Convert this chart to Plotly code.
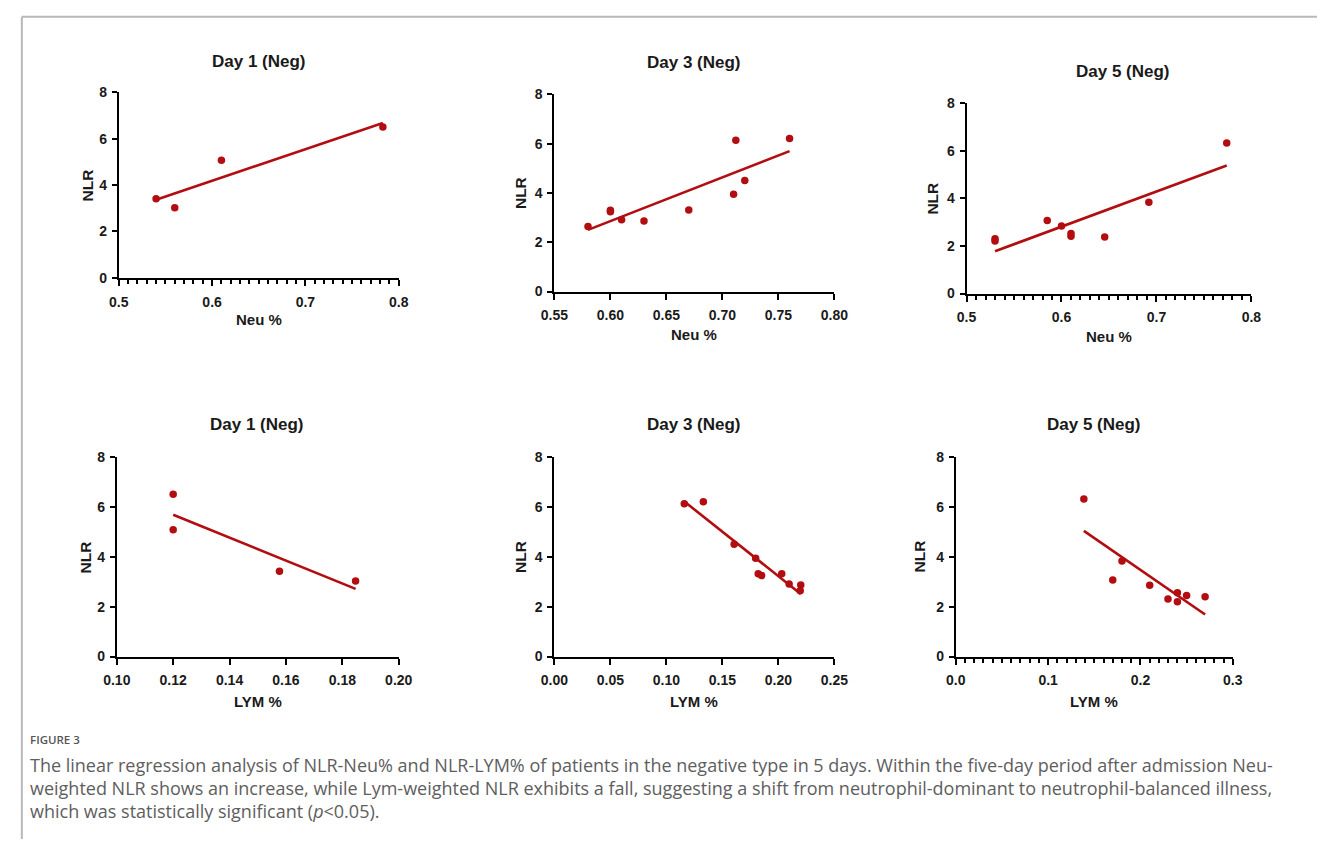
import numpy as np
import plotly.graph_objects as go

W, H = 1331, 847

# ---------------- data ----------------
d1_neu = [0.54, 0.56, 0.61, 0.783]
d1_nlr_neu = [3.41, 3.02, 5.07, 6.51]

d3_neu = [0.58, 0.60, 0.60, 0.61, 0.63, 0.67, 0.71, 0.712, 0.72, 0.76]
d3_nlr_neu = [2.64, 3.30, 3.24, 2.91, 2.86, 3.31, 3.95, 6.14, 4.50, 6.21]

d5_neu = [0.53, 0.53, 0.585, 0.60, 0.61, 0.61, 0.6455, 0.692, 0.774]
d5_nlr_neu = [2.30, 2.21, 3.07, 2.84, 2.52, 2.41, 2.38, 3.84, 6.33]

d1_lym = [0.12, 0.12, 0.1577, 0.1847]
d1_nlr_lym = [6.52, 5.09, 3.42, 3.03]

d3_lym = [0.116, 0.133, 0.1605, 0.1797, 0.182, 0.185, 0.203, 0.2096, 0.220, 0.2195]
d3_nlr_lym = [6.14, 6.22, 4.51, 3.95, 3.32, 3.25, 3.32, 2.91, 2.87, 2.64]

d5_lym = [0.1387, 0.17, 0.18, 0.21, 0.2298, 0.24, 0.24, 0.25, 0.27]
d5_nlr_lym = [6.33, 3.07, 3.84, 2.86, 2.31, 2.56, 2.20, 2.45, 2.40]

titles = ["Day 1 (Neg)", "Day 3 (Neg)", "Day 5 (Neg)",
          "Day 1 (Neg)", "Day 3 (Neg)", "Day 5 (Neg)"]
x_titles = ["Neu %", "Neu %", "Neu %", "LYM %", "LYM %", "LYM %"]
y_title = "NLR"

x_ranges = [[0.5, 0.8], [0.55, 0.80], [0.5, 0.8],
            [0.10, 0.20], [0.0, 0.25], [0.0, 0.3]]
x_tickvals = [[0.5, 0.6, 0.7, 0.8],
              [0.55, 0.60, 0.65, 0.70, 0.75, 0.80],
              [0.5, 0.6, 0.7, 0.8],
              [0.10, 0.12, 0.14, 0.16, 0.18, 0.20],
              [0.00, 0.05, 0.10, 0.15, 0.20, 0.25],
              [0.0, 0.1, 0.2, 0.3]]
x_ticktext = [["0.5", "0.6", "0.7", "0.8"],
              ["0.55", "0.60", "0.65", "0.70", "0.75", "0.80"],
              ["0.5", "0.6", "0.7", "0.8"],
              ["0.10", "0.12", "0.14", "0.16", "0.18", "0.20"],
              ["0.00", "0.05", "0.10", "0.15", "0.20", "0.25"],
              ["0.0", "0.1", "0.2", "0.3"]]
minor_x = [True, False, True, False, False, True]
y_tickvals = [0, 2, 4, 6, 8]

caption_label = "FIGURE 3"
caption_lines = [
    "The linear regression analysis of NLR-Neu% and NLR-LYM% of patients in the negative type in 5 days. Within the five-day period after admission Neu-",
    "weighted NLR shows an increase, while Lym-weighted NLR exhibits a fall, suggesting a shift from neutrophil-dominant to neutrophil-balanced illness,",
    "which was statistically significant (<i>p</i>&lt;0.05).",
]

series = [(d1_neu, d1_nlr_neu), (d3_neu, d3_nlr_neu), (d5_neu, d5_nlr_neu),
          (d1_lym, d1_nlr_lym), (d3_lym, d3_nlr_lym), (d5_lym, d5_nlr_lym)]

# ---------------- layout geometry (pixels) ----------------
# (x_left, x_right, y_top, y_bottom)
boxes = [(107, 393, 86, 275), (552, 838, 88, 289), (973, 1264, 97, 291),
         (105, 393, 458, 661), (552, 838, 458, 661), (962, 1245, 458, 661)]
title_pos = [(250, 55), (695, 56), (1133, 65), (248, 425), (695, 425), (1103, 425)]
ytitle_dx = [32, 34, 35, 32, 34, 37]
xtitle_dy = [43, 44, 44, 46, 46, 46]

RED = "#B20D10"
FONT = "Liberation Sans, Arial, sans-serif"


def px(x):
    return x / W


def py(y):
    return 1 - y / H


fig = go.Figure()
annotations = []
for i, ((xs, ys), box) in enumerate(zip(series, boxes)):
    n = i + 1
    xa = "x" if n == 1 else f"x{n}"
    ya = "y" if n == 1 else f"y{n}"
    x0, x1, y0, y1 = box
    # regression line
    xs_a = np.array(xs)
    ys_a = np.array(ys)
    k, b = np.polyfit(xs_a, ys_a, 1)
    lx = np.array([xs_a.min(), xs_a.max()])
    fig.add_trace(go.Scatter(x=lx, y=k * lx + b, mode="lines",
                             line=dict(color=RED, width=2.6),
                             xaxis=xa, yaxis=ya, showlegend=False,
                             cliponaxis=False, hoverinfo="skip"))
    fig.add_trace(go.Scatter(x=xs, y=ys, mode="markers",
                             marker=dict(color=RED, size=7.5),
                             xaxis=xa, yaxis=ya, showlegend=False,
                             cliponaxis=False))
    xkey = "xaxis" if n == 1 else f"xaxis{n}"
    ykey = "yaxis" if n == 1 else f"yaxis{n}"
    xaxis = dict(domain=[px(x0), px(x1)], anchor=ya, range=x_ranges[i],
                 showgrid=False, zeroline=False, showline=True,
                 linecolor="black", linewidth=2, ticks="outside",
                 ticklen=6, tickwidth=2, tickcolor="black",
                 tickvals=x_tickvals[i], ticktext=x_ticktext[i],
                 ticklabelstandoff=4,
                 tickfont=dict(family=FONT, size=14, color="#1a1a1a", weight="bold"))
    if minor_x[i]:
        xaxis["minor"] = dict(dtick=0.01, ticks="outside", ticklen=4,
                              tickwidth=1.5, tickcolor="black", showgrid=False)
    yaxis = dict(domain=[py(y1), py(y0)], anchor=xa, range=[0, 8],
                 showgrid=False, zeroline=False, showline=True,
                 linecolor="black", linewidth=2, ticks="outside",
                 ticklen=5, tickwidth=2, tickcolor="black",
                 tickvals=y_tickvals, ticklabelstandoff=2,
                 tickfont=dict(family=FONT, size=14, color="#1a1a1a", weight="bold"))
    fig.update_layout({xkey: xaxis, ykey: yaxis})

    tx, ty = title_pos[i]
    annotations.append(dict(text=titles[i], x=px(tx), y=py(ty), xref="paper", yref="paper",
                            showarrow=False, xanchor="center", yanchor="middle",
                            font=dict(family=FONT, size=17, color="#1a1a1a", weight="bold")))
    annotations.append(dict(text=x_titles[i], x=px((x0 + x1) / 2), y=py(y1 + xtitle_dy[i]),
                            xref="paper", yref="paper", showarrow=False,
                            xanchor="center", yanchor="middle",
                            font=dict(family=FONT, size=15, color="#1a1a1a", weight="bold")))
    annotations.append(dict(text=y_title, x=px(x0 - ytitle_dx[i]), y=py((y0 + y1) / 2),
                            xref="paper", yref="paper", showarrow=False, textangle=-90,
                            xanchor="center", yanchor="middle",
                            font=dict(family=FONT, size=15.5, color="#1a1a1a", weight="bold")))

# caption
annotations.append(dict(text=caption_label, x=px(14), y=py(746), xref="paper", yref="paper",
                        showarrow=False, xanchor="left", yanchor="middle",
                        font=dict(family="Open Sans, sans-serif", size=11.5, color="#555555",
                                  weight=600)))
for j, line in enumerate(caption_lines):
    annotations.append(dict(text=line, x=px(14), y=py(772 + 23 * j), xref="paper",
                            yref="paper", showarrow=False, xanchor="left", yanchor="middle",
                            font=dict(family="Open Sans, sans-serif", size=18,
                                      color="#5e5e5e")))

shapes = [
    dict(type="line", xref="paper", yref="paper", x0=px(8), x1=1, y0=py(9), y1=py(9),
         line=dict(color="#b8b8b8", width=2)),
    dict(type="line", xref="paper", yref="paper", x0=px(8), x1=px(8), y0=py(9), y1=0,
         line=dict(color="#b8b8b8", width=2)),
]

fig.update_layout(width=W, height=H, margin=dict(l=0, r=0, t=0, b=0),
                  paper_bgcolor="white", plot_bgcolor="white",
                  annotations=annotations, shapes=shapes, showlegend=False)

fig.write_html("out.html", config={"displayModeBar": False},
               post_script="document.body.style.margin='0';document.body.style.overflow='hidden';")
